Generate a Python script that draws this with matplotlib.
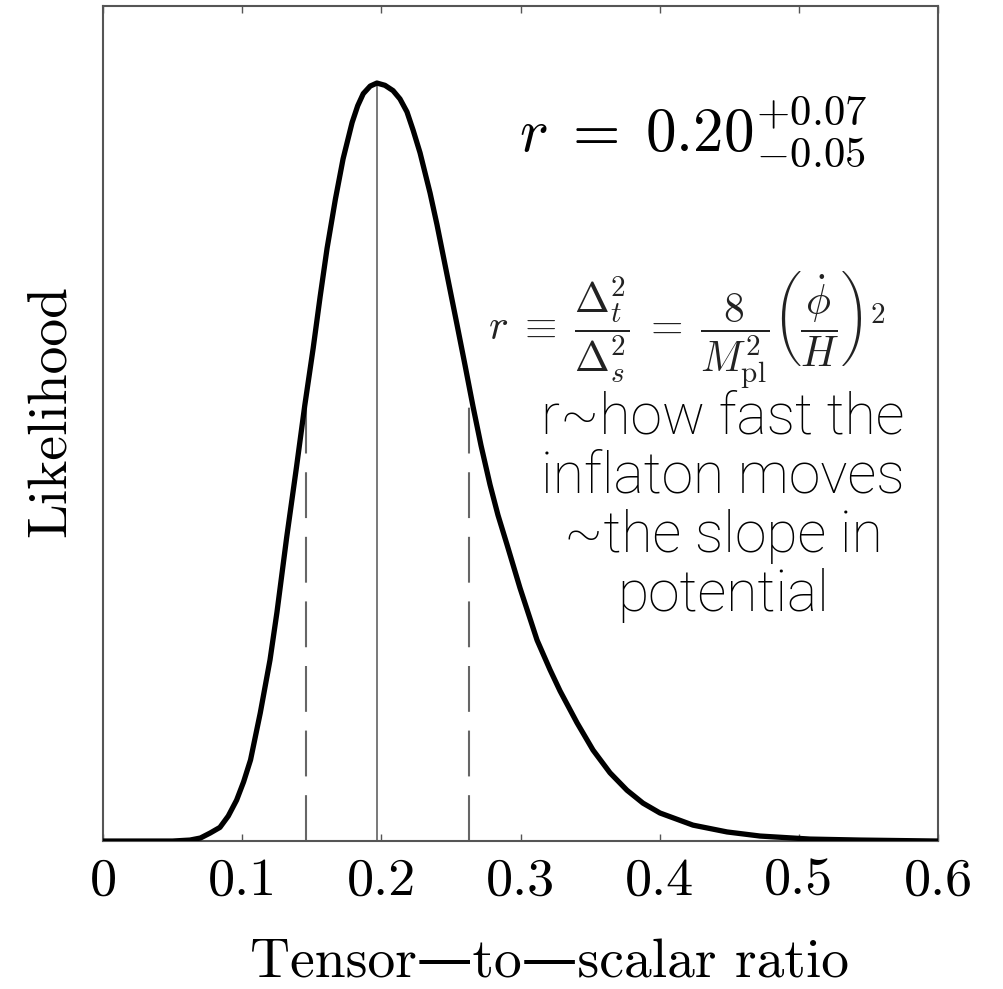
import numpy as np
import matplotlib
matplotlib.use("Agg")
import matplotlib.pyplot as plt

plt.rcParams['font.family'] = ['cmr10', 'DejaVu Serif']
plt.rcParams['mathtext.fontset'] = 'cm'
plt.rcParams['axes.unicode_minus'] = False
plt.rcParams['axes.formatter.use_mathtext'] = True

# likelihood curve (peak normalised to 1)
r_vals = [0.0, 0.050, 0.0625, 0.070, 0.077, 0.084, 0.090, 0.096, 0.101, 0.106,
          0.113, 0.120, 0.125, 0.132, 0.139, 0.145, 0.151, 0.156, 0.161, 0.167,
          0.1725, 0.179, 0.183, 0.187, 0.192, 0.1968, 0.2026, 0.2084, 0.2134, 0.2184,
          0.2228, 0.2278, 0.235, 0.240, 0.2472, 0.2544, 0.2601, 0.2659, 0.2716,
          0.2781, 0.2838, 0.2903, 0.2996, 0.3119, 0.3212, 0.3284, 0.3406, 0.3521,
          0.3643, 0.3765, 0.388, 0.4002, 0.4239, 0.4484, 0.4721, 0.508, 0.544, 0.6]
likelihood = [0.0, 0.0, 0.0013, 0.004, 0.0106, 0.018, 0.033, 0.054, 0.078, 0.107,
              0.169, 0.239, 0.302, 0.401, 0.493, 0.575, 0.650, 0.718, 0.782, 0.847,
              0.900, 0.948, 0.970, 0.986, 0.996, 1.0, 0.997, 0.990, 0.979, 0.962,
              0.938, 0.908, 0.855, 0.813, 0.747, 0.681, 0.628, 0.573, 0.522,
              0.470, 0.430, 0.391, 0.334, 0.265, 0.226, 0.198, 0.156, 0.120,
              0.090, 0.067, 0.050, 0.037, 0.021, 0.012, 0.0066, 0.0026, 0.0013, 0.0]

best_r = 0.1968
interval_r = [0.146, 0.263]

xticks = [0, 0.1, 0.2, 0.3, 0.4, 0.5, 0.6]
xtick_labels = ['0', '0.1', '0.2', '0.3', '0.4', '0.5', '0.6']

fig = plt.figure(figsize=(10.04, 9.89), dpi=100)
ax = fig.add_axes([0.1026, 0.1496, 0.8317, 0.8443])

ax.plot(r_vals, likelihood, color='black', lw=3.8, solid_capstyle='round',
        solid_joinstyle='round', zorder=3)

# best fit and 68% interval
peak = np.interp(best_r, r_vals, likelihood)
ax.plot([best_r, best_r], [0, peak], color='#555555', lw=1.1, zorder=2)
for rv in interval_r:
    h = np.interp(rv, r_vals, likelihood)
    ax.plot([rv, rv], [0, h], color='#666666', lw=1.5, dashes=(22, 9), zorder=2)

ax.set_xlim(0, 0.6)
ax.set_ylim(0, 1.1016)
ax.set_xticks(xticks)
ax.set_xticklabels(xtick_labels)
ax.set_yticks([])
ax.tick_params(axis='x', direction='in', length=5, width=1.0, color='#555555',
               top=True, labelsize=39, pad=12)
for sp in ax.spines.values():
    sp.set_color('#555555')
    sp.set_linewidth(1.5)

ax.set_xlabel('Tensor—to—scalar ratio', fontsize=40)
ax.xaxis.set_label_coords(0.535, -0.117)
ax.set_ylabel('Likelihood', fontsize=40)
ax.yaxis.set_label_coords(-0.033, 0.515)

ax.text(0.424, 0.91, r'$r\;=\;0.20^{+0.07}_{-0.05}$', fontsize=44,
        ha='center', va='baseline')
ax.text(0.4196, 0.674,
        r'$r\;\equiv\;\dfrac{\Delta_t^2}{\Delta_s^2}\;=\;\dfrac{8}{M_{\rm pl}^2}\left(\dfrac{\dot{\phi}}{H}\right)^{2}$',
        fontsize=30, ha='center', va='center', color='#222222')
ax.text(0.4455, 0.441, 'r~how fast the\ninflaton moves\n~the slope in\npotential',
        fontsize=41, ha='center', va='center', linespacing=1.09,
        family=['Roboto', 'DejaVu Sans'], fontweight='light')

fig.savefig('out.png', dpi=100)
